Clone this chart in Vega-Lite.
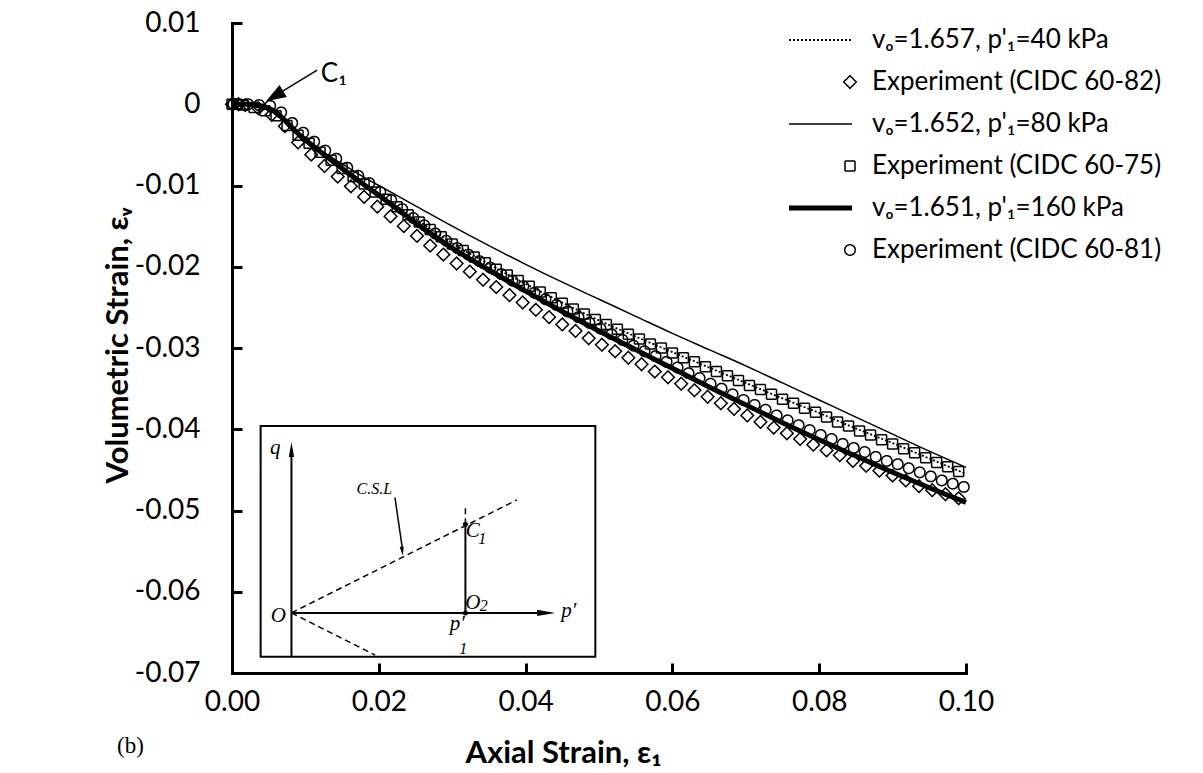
{
  "$schema": "https://vega.github.io/schema/vega-lite/v6.json",
  "width": 734,
  "height": 650,
  "autosize": {"type": "none"},
  "padding": {"left": 232, "top": 23, "right": 237, "bottom": 100},
  "background": "white",
  "config": {"view": {"stroke": null}, "font": "Lato"},
  "title": {"text": "(b)", "orient": "bottom", "anchor": "start", "frame": "group", "font": "Liberation Serif", "fontSize": 23, "fontWeight": "normal", "color": "black", "dx": -115, "dy": -37},
  "datasets": {
    "model": [
      {"s": "a", "x": 0, "y": 0}, {"s": "a", "x": 0.002, "y": -0.0001}, {"s": "a", "x": 0.004, "y": -0.0005}, {"s": "a", "x": 0.006, "y": -0.0013}, {"s": "a", "x": 0.008, "y": -0.0028}, {"s": "a", "x": 0.01, "y": -0.0043}, {"s": "a", "x": 0.015, "y": -0.0078}, {"s": "a", "x": 0.02, "y": -0.011}, {"s": "a", "x": 0.025, "y": -0.0141}, {"s": "a", "x": 0.03, "y": -0.0171}, {"s": "a", "x": 0.035, "y": -0.0197}, {"s": "a", "x": 0.04, "y": -0.0221}, {"s": "a", "x": 0.045, "y": -0.0244}, {"s": "a", "x": 0.05, "y": -0.0266}, {"s": "a", "x": 0.055, "y": -0.0286}, {"s": "a", "x": 0.06, "y": -0.0305}, {"s": "a", "x": 0.065, "y": -0.0324}, {"s": "a", "x": 0.07, "y": -0.0343}, {"s": "a", "x": 0.075, "y": -0.0362}, {"s": "a", "x": 0.08, "y": -0.038}, {"s": "a", "x": 0.085, "y": -0.0399}, {"s": "a", "x": 0.09, "y": -0.0417}, {"s": "a", "x": 0.095, "y": -0.0436}, {"s": "a", "x": 0.1, "y": -0.0455},
      {"s": "c", "x": 0, "y": 0}, {"s": "c", "x": 0.002, "y": 0}, {"s": "c", "x": 0.003, "y": -0.0001}, {"s": "c", "x": 0.004, "y": -0.0002}, {"s": "c", "x": 0.005, "y": -0.0005}, {"s": "c", "x": 0.006, "y": -0.001}, {"s": "c", "x": 0.007, "y": -0.0018}, {"s": "c", "x": 0.008, "y": -0.0026}, {"s": "c", "x": 0.009, "y": -0.0035}, {"s": "c", "x": 0.01, "y": -0.0043}, {"s": "c", "x": 0.012, "y": -0.0056}, {"s": "c", "x": 0.014, "y": -0.0068}, {"s": "c", "x": 0.016, "y": -0.0079}, {"s": "c", "x": 0.018, "y": -0.009}, {"s": "c", "x": 0.02, "y": -0.01}, {"s": "c", "x": 0.025, "y": -0.0125}, {"s": "c", "x": 0.03, "y": -0.015}, {"s": "c", "x": 0.035, "y": -0.0174}, {"s": "c", "x": 0.04, "y": -0.0197}, {"s": "c", "x": 0.045, "y": -0.0219}, {"s": "c", "x": 0.05, "y": -0.024}, {"s": "c", "x": 0.055, "y": -0.0261}, {"s": "c", "x": 0.06, "y": -0.0282}, {"s": "c", "x": 0.065, "y": -0.0302}, {"s": "c", "x": 0.07, "y": -0.0322}, {"s": "c", "x": 0.075, "y": -0.0343}, {"s": "c", "x": 0.08, "y": -0.0364}, {"s": "c", "x": 0.085, "y": -0.0385}, {"s": "c", "x": 0.09, "y": -0.0406}, {"s": "c", "x": 0.095, "y": -0.0427}, {"s": "c", "x": 0.1, "y": -0.0447},
      {"s": "e", "x": 0, "y": 0}, {"s": "e", "x": 0.002, "y": 0}, {"s": "e", "x": 0.003, "y": -0.0001}, {"s": "e", "x": 0.004, "y": -0.0002}, {"s": "e", "x": 0.005, "y": -0.0005}, {"s": "e", "x": 0.006, "y": -0.001}, {"s": "e", "x": 0.007, "y": -0.0018}, {"s": "e", "x": 0.008, "y": -0.0027}, {"s": "e", "x": 0.009, "y": -0.0036}, {"s": "e", "x": 0.01, "y": -0.0044}, {"s": "e", "x": 0.012, "y": -0.0058}, {"s": "e", "x": 0.014, "y": -0.0072}, {"s": "e", "x": 0.016, "y": -0.0086}, {"s": "e", "x": 0.018, "y": -0.0099}, {"s": "e", "x": 0.02, "y": -0.0112}, {"s": "e", "x": 0.025, "y": -0.0146}, {"s": "e", "x": 0.03, "y": -0.0177}, {"s": "e", "x": 0.035, "y": -0.0204}, {"s": "e", "x": 0.04, "y": -0.023}, {"s": "e", "x": 0.045, "y": -0.0255}, {"s": "e", "x": 0.05, "y": -0.0279}, {"s": "e", "x": 0.055, "y": -0.0302}, {"s": "e", "x": 0.06, "y": -0.0325}, {"s": "e", "x": 0.065, "y": -0.0348}, {"s": "e", "x": 0.07, "y": -0.037}, {"s": "e", "x": 0.075, "y": -0.0392}, {"s": "e", "x": 0.08, "y": -0.0413}, {"s": "e", "x": 0.085, "y": -0.0433}, {"s": "e", "x": 0.09, "y": -0.0453}, {"s": "e", "x": 0.095, "y": -0.0472}, {"s": "e", "x": 0.1, "y": -0.049}
    ],
    "exp": [
      {"s": "b", "x": 0, "y": 0}, {"s": "b", "x": 0.0009, "y": 0}, {"s": "b", "x": 0.0018, "y": -0.0001}, {"s": "b", "x": 0.0036, "y": -0.0005}, {"s": "b", "x": 0.0054, "y": -0.0013}, {"s": "b", "x": 0.0072, "y": -0.0027}, {"s": "b", "x": 0.009, "y": -0.0047}, {"s": "b", "x": 0.0108, "y": -0.0062}, {"s": "b", "x": 0.0126, "y": -0.0076}, {"s": "b", "x": 0.0144, "y": -0.0089}, {"s": "b", "x": 0.0162, "y": -0.0101}, {"s": "b", "x": 0.018, "y": -0.0114}, {"s": "b", "x": 0.0198, "y": -0.0126}, {"s": "b", "x": 0.0216, "y": -0.0138}, {"s": "b", "x": 0.0234, "y": -0.015}, {"s": "b", "x": 0.0252, "y": -0.0162}, {"s": "b", "x": 0.027, "y": -0.0174}, {"s": "b", "x": 0.0288, "y": -0.0185}, {"s": "b", "x": 0.0306, "y": -0.0196}, {"s": "b", "x": 0.0324, "y": -0.0206}, {"s": "b", "x": 0.0342, "y": -0.0216}, {"s": "b", "x": 0.036, "y": -0.0225}, {"s": "b", "x": 0.0378, "y": -0.0235}, {"s": "b", "x": 0.0396, "y": -0.0244}, {"s": "b", "x": 0.0414, "y": -0.0253}, {"s": "b", "x": 0.0432, "y": -0.0262}, {"s": "b", "x": 0.045, "y": -0.0271}, {"s": "b", "x": 0.0468, "y": -0.0279}, {"s": "b", "x": 0.0486, "y": -0.0288}, {"s": "b", "x": 0.0504, "y": -0.0296}, {"s": "b", "x": 0.0522, "y": -0.0304}, {"s": "b", "x": 0.054, "y": -0.0312}, {"s": "b", "x": 0.0558, "y": -0.032}, {"s": "b", "x": 0.0576, "y": -0.0329}, {"s": "b", "x": 0.0594, "y": -0.0336}, {"s": "b", "x": 0.0612, "y": -0.0344}, {"s": "b", "x": 0.063, "y": -0.0352}, {"s": "b", "x": 0.0648, "y": -0.036}, {"s": "b", "x": 0.0666, "y": -0.0368}, {"s": "b", "x": 0.0684, "y": -0.0375}, {"s": "b", "x": 0.0702, "y": -0.0383}, {"s": "b", "x": 0.072, "y": -0.0391}, {"s": "b", "x": 0.0738, "y": -0.0398}, {"s": "b", "x": 0.0756, "y": -0.0405}, {"s": "b", "x": 0.0774, "y": -0.0412}, {"s": "b", "x": 0.0792, "y": -0.0419}, {"s": "b", "x": 0.081, "y": -0.0426}, {"s": "b", "x": 0.0828, "y": -0.0432}, {"s": "b", "x": 0.0846, "y": -0.0439}, {"s": "b", "x": 0.0864, "y": -0.0445}, {"s": "b", "x": 0.0882, "y": -0.0451}, {"s": "b", "x": 0.09, "y": -0.0457}, {"s": "b", "x": 0.0918, "y": -0.0463}, {"s": "b", "x": 0.0936, "y": -0.047}, {"s": "b", "x": 0.0954, "y": -0.0475}, {"s": "b", "x": 0.0972, "y": -0.048}, {"s": "b", "x": 0.099, "y": -0.0485},
      {"s": "d", "x": 0, "y": 0}, {"s": "d", "x": 0.0007, "y": 0}, {"s": "d", "x": 0.0015, "y": -0.0001}, {"s": "d", "x": 0.003, "y": -0.0004}, {"s": "d", "x": 0.0045, "y": -0.0008}, {"s": "d", "x": 0.006, "y": -0.0014}, {"s": "d", "x": 0.0075, "y": -0.0026}, {"s": "d", "x": 0.009, "y": -0.0038}, {"s": "d", "x": 0.0105, "y": -0.0048}, {"s": "d", "x": 0.012, "y": -0.0059}, {"s": "d", "x": 0.0135, "y": -0.0069}, {"s": "d", "x": 0.015, "y": -0.0079}, {"s": "d", "x": 0.0165, "y": -0.0089}, {"s": "d", "x": 0.018, "y": -0.0098}, {"s": "d", "x": 0.0195, "y": -0.0108}, {"s": "d", "x": 0.021, "y": -0.0117}, {"s": "d", "x": 0.0225, "y": -0.0126}, {"s": "d", "x": 0.024, "y": -0.0136}, {"s": "d", "x": 0.0255, "y": -0.0145}, {"s": "d", "x": 0.027, "y": -0.0154}, {"s": "d", "x": 0.0285, "y": -0.0163}, {"s": "d", "x": 0.03, "y": -0.0172}, {"s": "d", "x": 0.0315, "y": -0.018}, {"s": "d", "x": 0.033, "y": -0.0188}, {"s": "d", "x": 0.0345, "y": -0.0195}, {"s": "d", "x": 0.036, "y": -0.0203}, {"s": "d", "x": 0.0375, "y": -0.021}, {"s": "d", "x": 0.039, "y": -0.0217}, {"s": "d", "x": 0.0405, "y": -0.0224}, {"s": "d", "x": 0.042, "y": -0.0231}, {"s": "d", "x": 0.0435, "y": -0.0238}, {"s": "d", "x": 0.045, "y": -0.0245}, {"s": "d", "x": 0.0465, "y": -0.0252}, {"s": "d", "x": 0.048, "y": -0.0258}, {"s": "d", "x": 0.0495, "y": -0.0265}, {"s": "d", "x": 0.051, "y": -0.0271}, {"s": "d", "x": 0.0525, "y": -0.0277}, {"s": "d", "x": 0.054, "y": -0.0283}, {"s": "d", "x": 0.0555, "y": -0.0289}, {"s": "d", "x": 0.057, "y": -0.0295}, {"s": "d", "x": 0.0585, "y": -0.03}, {"s": "d", "x": 0.06, "y": -0.0306}, {"s": "d", "x": 0.0615, "y": -0.0312}, {"s": "d", "x": 0.063, "y": -0.0317}, {"s": "d", "x": 0.0645, "y": -0.0323}, {"s": "d", "x": 0.066, "y": -0.0329}, {"s": "d", "x": 0.0675, "y": -0.0334}, {"s": "d", "x": 0.069, "y": -0.034}, {"s": "d", "x": 0.0705, "y": -0.0346}, {"s": "d", "x": 0.072, "y": -0.0351}, {"s": "d", "x": 0.0735, "y": -0.0357}, {"s": "d", "x": 0.075, "y": -0.0363}, {"s": "d", "x": 0.0765, "y": -0.0368}, {"s": "d", "x": 0.078, "y": -0.0374}, {"s": "d", "x": 0.0795, "y": -0.0379}, {"s": "d", "x": 0.081, "y": -0.0385}, {"s": "d", "x": 0.0825, "y": -0.0391}, {"s": "d", "x": 0.084, "y": -0.0396}, {"s": "d", "x": 0.0855, "y": -0.0402}, {"s": "d", "x": 0.087, "y": -0.0407}, {"s": "d", "x": 0.0885, "y": -0.0413}, {"s": "d", "x": 0.09, "y": -0.0418}, {"s": "d", "x": 0.0915, "y": -0.0424}, {"s": "d", "x": 0.093, "y": -0.0429}, {"s": "d", "x": 0.0945, "y": -0.0435}, {"s": "d", "x": 0.096, "y": -0.0441}, {"s": "d", "x": 0.0975, "y": -0.0446}, {"s": "d", "x": 0.099, "y": -0.0452},
      {"s": "f", "x": 0.0002, "y": 0}, {"s": "f", "x": 0.0007, "y": 0}, {"s": "f", "x": 0.0022, "y": 0}, {"s": "f", "x": 0.0037, "y": -0.0001}, {"s": "f", "x": 0.0052, "y": -0.0002}, {"s": "f", "x": 0.0067, "y": -0.001}, {"s": "f", "x": 0.0082, "y": -0.0023}, {"s": "f", "x": 0.0097, "y": -0.0035}, {"s": "f", "x": 0.0112, "y": -0.0046}, {"s": "f", "x": 0.0127, "y": -0.0057}, {"s": "f", "x": 0.0142, "y": -0.0067}, {"s": "f", "x": 0.0157, "y": -0.0078}, {"s": "f", "x": 0.0172, "y": -0.0088}, {"s": "f", "x": 0.0187, "y": -0.0097}, {"s": "f", "x": 0.0202, "y": -0.0108}, {"s": "f", "x": 0.0217, "y": -0.0118}, {"s": "f", "x": 0.0232, "y": -0.0129}, {"s": "f", "x": 0.0247, "y": -0.014}, {"s": "f", "x": 0.0262, "y": -0.0149}, {"s": "f", "x": 0.0277, "y": -0.0159}, {"s": "f", "x": 0.0292, "y": -0.0168}, {"s": "f", "x": 0.0307, "y": -0.0177}, {"s": "f", "x": 0.0322, "y": -0.0185}, {"s": "f", "x": 0.0337, "y": -0.0193}, {"s": "f", "x": 0.0352, "y": -0.0201}, {"s": "f", "x": 0.0367, "y": -0.0209}, {"s": "f", "x": 0.0382, "y": -0.0217}, {"s": "f", "x": 0.0397, "y": -0.0224}, {"s": "f", "x": 0.0412, "y": -0.0232}, {"s": "f", "x": 0.0427, "y": -0.024}, {"s": "f", "x": 0.0442, "y": -0.0247}, {"s": "f", "x": 0.0457, "y": -0.0255}, {"s": "f", "x": 0.0472, "y": -0.0262}, {"s": "f", "x": 0.0487, "y": -0.0269}, {"s": "f", "x": 0.0502, "y": -0.0276}, {"s": "f", "x": 0.0517, "y": -0.0283}, {"s": "f", "x": 0.0532, "y": -0.029}, {"s": "f", "x": 0.0547, "y": -0.0297}, {"s": "f", "x": 0.0562, "y": -0.0304}, {"s": "f", "x": 0.0577, "y": -0.031}, {"s": "f", "x": 0.0592, "y": -0.0317}, {"s": "f", "x": 0.0607, "y": -0.0324}, {"s": "f", "x": 0.0622, "y": -0.0331}, {"s": "f", "x": 0.0637, "y": -0.0337}, {"s": "f", "x": 0.0652, "y": -0.0344}, {"s": "f", "x": 0.0667, "y": -0.035}, {"s": "f", "x": 0.0682, "y": -0.0357}, {"s": "f", "x": 0.0697, "y": -0.0364}, {"s": "f", "x": 0.0712, "y": -0.037}, {"s": "f", "x": 0.0727, "y": -0.0376}, {"s": "f", "x": 0.0742, "y": -0.0383}, {"s": "f", "x": 0.0757, "y": -0.0389}, {"s": "f", "x": 0.0772, "y": -0.0395}, {"s": "f", "x": 0.0787, "y": -0.0401}, {"s": "f", "x": 0.0802, "y": -0.0407}, {"s": "f", "x": 0.0817, "y": -0.0412}, {"s": "f", "x": 0.0832, "y": -0.0418}, {"s": "f", "x": 0.0847, "y": -0.0423}, {"s": "f", "x": 0.0862, "y": -0.0428}, {"s": "f", "x": 0.0877, "y": -0.0434}, {"s": "f", "x": 0.0892, "y": -0.0439}, {"s": "f", "x": 0.0907, "y": -0.0443}, {"s": "f", "x": 0.0922, "y": -0.0448}, {"s": "f", "x": 0.0937, "y": -0.0453}, {"s": "f", "x": 0.0952, "y": -0.0458}, {"s": "f", "x": 0.0967, "y": -0.0463}, {"s": "f", "x": 0.0982, "y": -0.0467}, {"s": "f", "x": 0.0997, "y": -0.0471}
    ],
    "insetBox": [{"x": 0.0039, "x2": 0.0495, "y": -0.0396, "y2": -0.068}],
    "insetSolid": [
      {"x": 0.0081, "x2": 0.0081, "y": -0.068, "y2": -0.0425},
      {"x": 0.0081, "x2": 0.0428, "y": -0.0626, "y2": -0.0626},
      {"x": 0.0318, "x2": 0.0318, "y": -0.0626, "y2": -0.0517}
    ],
    "insetDashed": [
      {"x": 0.0081, "x2": 0.0388, "y": -0.0626, "y2": -0.0487},
      {"x": 0.0081, "x2": 0.0195, "y": -0.0626, "y2": -0.0678},
      {"x": 0.0318, "x2": 0.0318, "y": -0.0517, "y2": -0.0494}
    ],
    "pointer": [
      {"x": 0.0222, "x2": 0.0232, "y": -0.0484, "y2": -0.0546},
      {"x": 0.0116, "x2": 0.0058, "y": 0.0042, "y2": 0.001}
    ],
    "dots": [{"x": 0.0318, "y": -0.0517}, {"x": 0.0318, "y": -0.0626}],
    "qHead": [{"x": 0.0081, "y": -0.0425}],
    "pHead": [{"x": 0.0428, "y": -0.0626}],
    "cslHead": [{"x": 0.0232, "y": -0.055}],
    "c1Head": [{"x": 0.0058, "y": 0.001}],
    "bigText": [
      {"t": "q", "x": 0.0059, "y": -0.043},
      {"t": "O", "x": 0.0063, "y": -0.0637},
      {"t": "p′", "x": 0.0459, "y": -0.0631},
      {"t": "C", "x": 0.0328, "y": -0.0533},
      {"t": "O", "x": 0.0328, "y": -0.0621},
      {"t": "p′", "x": 0.0307, "y": -0.0647}
    ],
    "subText": [
      {"t": "1", "x": 0.0341, "y": -0.0541},
      {"t": "2", "x": 0.0343, "y": -0.0624},
      {"t": "1", "x": 0.0315, "y": -0.0676}
    ],
    "cslText": [{"t": "C.S.L", "x": 0.0194, "y": -0.048}],
    "c1Text": [{"t": "C₁", "x": 0.0121, "y": 0.0027}]
  },
  "encoding": {
    "x": {
      "field": "x", "type": "quantitative",
      "scale": {"domain": [0, 0.1], "nice": false, "zero": false},
      "axis": {"values": [0, 0.02, 0.04, 0.06, 0.08, 0.1], "format": ".2f", "labelFlush": false, "title": "Axial Strain, ε₁", "grid": false, "domainColor": "black", "domainWidth": 3, "domainCap": "square", "tickColor": "black", "tickWidth": 3, "tickSize": -10, "labelFont": "Lato", "labelFontSize": 28, "labelColor": "black", "labelPadding": 25, "titleFont": "Lato", "titleFontSize": 31, "titleFontWeight": "bold", "titleColor": "black", "titleBaseline": "middle", "titleX": 331, "titleY": 80}
    },
    "y": {
      "field": "y", "type": "quantitative",
      "scale": {"domain": [-0.07, 0.01], "nice": false, "zero": false},
      "axis": {"values": [0.01, 0, -0.01, -0.02, -0.03, -0.04, -0.05, -0.06, -0.07], "labelFlush": false, "labelExpr": "datum.value == 0 ? '0' : (datum.value < 0 ? '-' : '') + format(abs(datum.value), '.2f')", "title": "Volumetric Strain, εᵥ", "grid": false, "domainColor": "black", "domainWidth": 3, "domainCap": "square", "tickColor": "black", "tickWidth": 3, "tickSize": -10, "labelFont": "Lato", "labelFontSize": 28, "labelColor": "black", "labelPadding": 42, "titleFont": "Lato", "titleFontSize": 31, "titleFontWeight": "bold", "titleColor": "black", "titleBaseline": "middle", "titleX": -114, "titleY": 322}
    }
  },
  "layer": [
    {"data": {"name": "insetBox"}, "mark": {"type": "rect", "fill": "white", "stroke": "black", "strokeWidth": 2}, "encoding": {"x2": {"field": "x2"}, "y2": {"field": "y2"}}},
    {"data": {"name": "insetSolid"}, "mark": {"type": "rule", "color": "black", "strokeWidth": 2}, "encoding": {"x2": {"field": "x2"}, "y2": {"field": "y2"}}},
    {"data": {"name": "insetDashed"}, "mark": {"type": "rule", "color": "black", "strokeWidth": 1.5, "strokeDash": [6, 4]}, "encoding": {"x2": {"field": "x2"}, "y2": {"field": "y2"}}},
    {"data": {"name": "pointer"}, "mark": {"type": "rule", "color": "black", "strokeWidth": 1.5}, "encoding": {"x2": {"field": "x2"}, "y2": {"field": "y2"}}},
    {"data": {"name": "dots"}, "mark": {"type": "point", "shape": "circle", "filled": true, "color": "black", "size": 25, "opacity": 1}},
    {"data": {"name": "qHead"}, "mark": {"type": "point", "shape": "M0,-1L0.35,1L-0.35,1Z", "filled": true, "color": "black", "size": 225, "opacity": 1}},
    {"data": {"name": "pHead"}, "mark": {"type": "point", "shape": "M1,0L-1,0.35L-1,-0.35Z", "filled": true, "color": "black", "size": 324, "opacity": 1}},
    {"data": {"name": "cslHead"}, "mark": {"type": "point", "shape": "M0,1L0.45,-1L-0.45,-1Z", "filled": true, "color": "black", "size": 81, "angle": 352, "opacity": 1}},
    {"data": {"name": "c1Head"}, "mark": {"type": "point", "shape": "M1,0L-1,0.7L-1,-0.7Z", "filled": true, "color": "black", "size": 400, "angle": 149, "opacity": 1}},
    {"data": {"name": "bigText"}, "mark": {"type": "text", "font": "Liberation Serif", "fontStyle": "italic", "fontSize": 21, "align": "center", "baseline": "alphabetic", "color": "black"}, "encoding": {"text": {"field": "t"}}},
    {"data": {"name": "subText"}, "mark": {"type": "text", "font": "Liberation Serif", "fontStyle": "italic", "fontSize": 16, "align": "center", "baseline": "alphabetic", "color": "black"}, "encoding": {"text": {"field": "t"}}},
    {"data": {"name": "cslText"}, "mark": {"type": "text", "font": "Liberation Serif", "fontStyle": "italic", "fontSize": 16, "align": "center", "baseline": "alphabetic", "color": "black"}, "encoding": {"text": {"field": "t"}}},
    {"data": {"name": "c1Text"}, "mark": {"type": "text", "font": "Lato", "fontSize": 26, "align": "left", "baseline": "alphabetic", "color": "black"}, "encoding": {"text": {"field": "t"}}},
    {
      "data": {"name": "exp"},
      "mark": {"type": "point", "filled": false, "color": "black", "opacity": 1},
      "encoding": {
        "shape": {"field": "s", "type": "nominal", "scale": {"domain": ["a", "b", "c", "d", "e", "f"], "range": ["M-12.2,0H0.4", "diamond", "M-12.2,0H0.4", "square", "M-12.2,0H0.4", "circle"]},
          "legend": {"orient": "none", "legendX": 605, "legendY": 4, "title": null, "labelFont": "Lato", "labelFontSize": 26, "labelColor": "black", "labelLimit": 500, "labelOffset": 9, "rowPadding": 16, "padding": 0, "symbolStrokeColor": "black", "symbolFillColor": "transparent",
            "labelExpr": "datum.value == 'a' ? \"vₒ=1.657, p'₁=40 kPa\" : datum.value == 'b' ? '\u2003Experiment (CIDC 60-82)' : datum.value == 'c' ? \"vₒ=1.652, p'₁=80 kPa\" : datum.value == 'd' ? '\u2003Experiment (CIDC 60-75)' : datum.value == 'e' ? \"vₒ=1.651, p'₁=160 kPa\" : '\u2003Experiment (CIDC 60-81)'"}},
        "size": {"field": "s", "type": "nominal", "scale": {"type": "ordinal", "domain": ["a", "b", "c", "d", "e", "f"], "range": [100, 160, 100, 100, 100, 110]}},
        "strokeWidth": {"field": "s", "type": "nominal", "scale": {"type": "ordinal", "domain": ["a", "b", "c", "d", "e", "f"], "range": [1.8, 1.5, 1.5, 1.5, 5, 1.5]}},
        "strokeDash": {"field": "s", "type": "nominal", "scale": {"domain": ["a", "b", "c", "d", "e", "f"], "range": [[2, 2], [1, 0], [1, 0], [1, 0], [1, 0], [1, 0]]}}
      }
    },
    {"data": {"name": "model"}, "transform": [{"filter": "datum.s == 'a'"}], "mark": {"type": "line", "color": "black", "strokeWidth": 1.8, "strokeDash": [2, 2], "interpolate": "monotone"}, "encoding": {}},
    {"data": {"name": "model"}, "transform": [{"filter": "datum.s == 'c'"}], "mark": {"type": "line", "color": "black", "strokeWidth": 1.5, "interpolate": "monotone"}, "encoding": {}},
    {"data": {"name": "model"}, "transform": [{"filter": "datum.s == 'e'"}], "mark": {"type": "line", "color": "black", "strokeWidth": 5, "interpolate": "monotone"}, "encoding": {}}
  ]
}
